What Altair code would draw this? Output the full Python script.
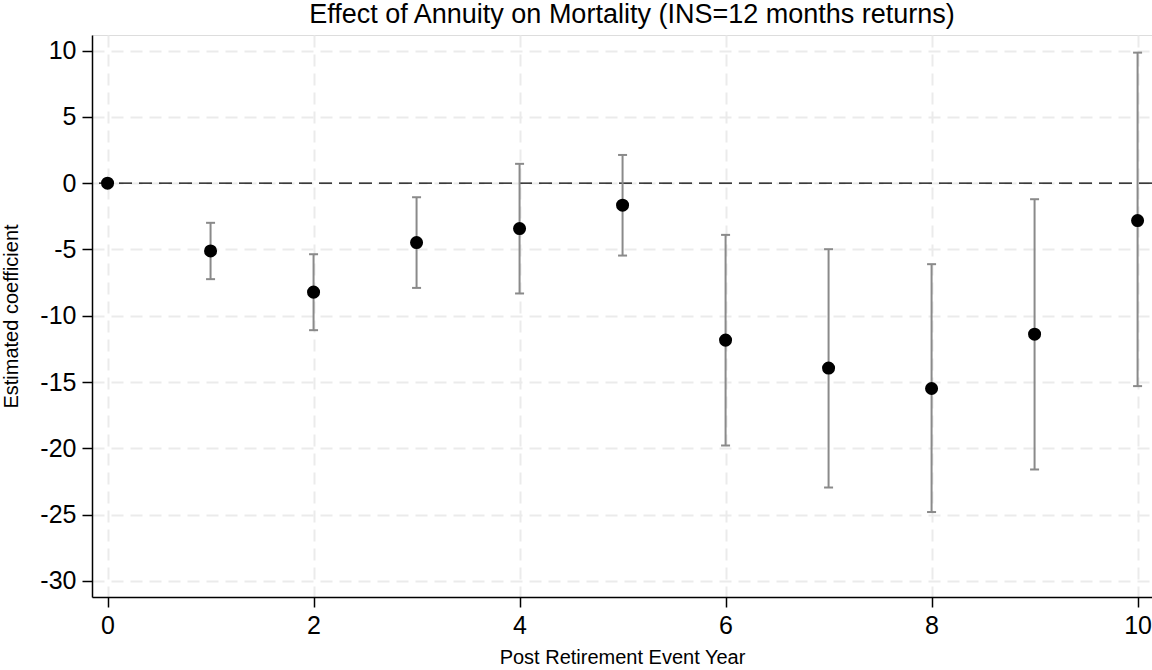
import altair as alt
import pandas as pd

# Data
years = [0, 1, 2, 3, 4, 5, 6, 7, 8, 9, 10]
coef = [0.0, -5.11, -8.22, -4.48, -3.42, -1.66, -11.84, -13.95, -15.49, -11.39, -2.82]
ci_years = [1, 2, 3, 4, 5, 6, 7, 8, 9, 10]
ci_low = [-7.24, -11.09, -7.90, -8.32, -5.46, -19.79, -22.96, -24.81, -21.60, -15.31]
ci_high = [-2.99, -5.36, -1.06, 1.46, 2.13, -3.90, -4.98, -6.11, -1.21, 9.85]
x_ticks = [0, 2, 4, 6, 8, 10]
y_ticks = [10, 5, 0, -5, -10, -15, -20, -25, -30]

pts = pd.DataFrame({"year": years, "coef": coef})
ci = pd.DataFrame({"year": ci_years, "lo": ci_low, "hi": ci_high})
zero = pd.DataFrame({"y": [0]})

FONT = "Liberation Sans"
GRID = "#ebebeb"
BAR = "#8a8a8a"

xscale = alt.Scale(domain=[-0.151, 10.14], nice=False, zero=False)
yscale = alt.Scale(domain=[-31.22, 11.18], nice=False, zero=False)

xaxis = alt.Axis(
    values=x_ticks, title="Post Retirement Event Year",
    labelExpr="'' + datum.value",
    labelFont=FONT, labelFontSize=25, labelColor="black", labelPadding=6,
    tickSize=10, tickColor="black", tickWidth=1.5,
    domainColor="black", domainWidth=1.5,
    grid=True, gridColor=GRID, gridWidth=2, gridDash=[12, 7],
    titleFont=FONT, titleFontSize=20, titleFontWeight="normal", titleColor="black",
    titleBaseline="alphabetic", titleY=66.7,
)
yaxis = alt.Axis(
    values=y_ticks, title="Estimated coefficient",
    labelExpr="'' + datum.value",
    labelFont=FONT, labelFontSize=25, labelColor="black", labelPadding=6,
    tickSize=10, tickColor="black", tickWidth=1.5,
    domainColor="black", domainWidth=1.5,
    grid=True, gridColor=GRID, gridWidth=2, gridDash=[12, 7],
    titleFont=FONT, titleFontSize=20, titleFontWeight="normal", titleColor="black",
    titleAngle=-90, titleBaseline="alphabetic", titleX=-75, titleY=281,
)

base_x = alt.X("year:Q", scale=xscale, axis=xaxis)

zero_line = alt.Chart(zero).mark_rule(
    color="black", strokeWidth=1.3, strokeDash=[13, 7]
).encode(y=alt.Y("y:Q", scale=yscale, axis=yaxis))

bars = alt.Chart(ci).mark_rule(color=BAR, strokeWidth=2).encode(
    x=base_x,
    y=alt.Y("lo:Q", scale=yscale, axis=yaxis),
    y2="hi:Q",
)
caps_lo = alt.Chart(ci).mark_tick(color=BAR, thickness=2, size=9, orient="horizontal", opacity=1).encode(
    x=base_x, y=alt.Y("lo:Q", scale=yscale, axis=yaxis)
)
caps_hi = alt.Chart(ci).mark_tick(color=BAR, thickness=2, size=9, orient="horizontal", opacity=1).encode(
    x=base_x, y=alt.Y("hi:Q", scale=yscale, axis=yaxis)
)
points = alt.Chart(pts).mark_circle(color="black", size=170, opacity=1).encode(
    x=base_x, y=alt.Y("coef:Q", scale=yscale, axis=yaxis)
)

chart = alt.layer(zero_line, bars, caps_lo, caps_hi, points).properties(
    width=1060,
    height=562,
    title=alt.TitleParams(
        "Effect of Annuity on Mortality (INS=12 months returns)",
        font=FONT, fontSize=27, fontWeight="normal", color="black",
        anchor="middle", baseline="alphabetic", offset=-15, dx=10,
    ),
    padding={"left": 92, "top": 35, "right": 0, "bottom": 73},
    autosize="none",
).configure_view(stroke=None).configure(background="white")

chart.save("out.html", embed_options={"renderer": "svg", "actions": False})
